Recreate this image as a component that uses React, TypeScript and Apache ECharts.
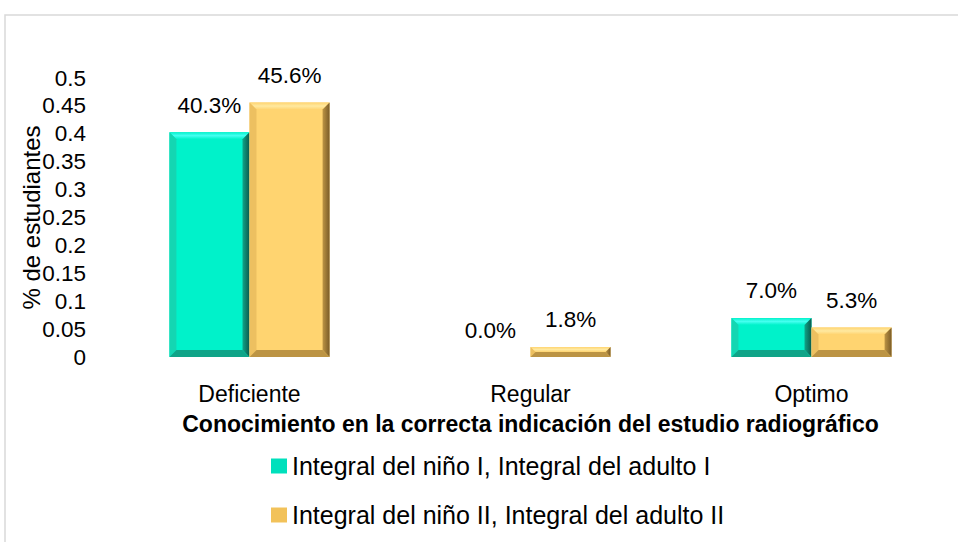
import React, { useEffect, useRef } from "react";
import * as echarts from "echarts";

const categories = ["Deficiente", "Regular", "Optimo"];
const seriesNames = [
  "Integral del niño I, Integral del adulto I",
  "Integral del niño II, Integral del adulto II",
];
const valuesGroup1 = [0.403, 0.0, 0.07];
const valuesGroup2 = [0.456, 0.018, 0.053];
const yTicks = { min: 0, max: 0.5, interval: 0.05 };
const xTitle = "Conocimiento en la correcta indicación del estudio radiográfico";
const yTitle = "% de estudiantes";

const FONT = "'Liberation Sans', Arial, sans-serif";

const palettes = [
  { face: "#00F2CA", top: "#45FFF0", left: "#14D6B2", right: "#0A5A4C", bottom: "#10A488", legend: "#00E0BC" },
  { face: "#FFD470", top: "#FFE9A0", left: "#EDC060", right: "#7A5C28", bottom: "#BC9444", legend: "#F2C25A" },
];

function makeRender(si: number) {
  return (params: any, api: any) => {
    const ci = api.value(0);
    const v = api.value(1);
    const base = api.coord([ci, 0]);
    const top = api.coord([ci, v]);
    const catW = api.size([1, 0])[0];
    const w = catW * 0.285;
    const x = si === 0 ? base[0] - w : base[0];
    const y = top[1];
    const h = base[1] - top[1];
    const p = palettes[si];
    const b = Math.min(7, h / 2, w / 2);
    const children: any[] = [];
    if (h > 0.5) {
      children.push({ type: "rect", shape: { x, y, width: w, height: h }, style: { fill: p.face } });
      children.push({
        type: "polygon",
        shape: { points: [[x, y], [x + w, y], [x + w - b, y + b], [x + b, y + b]] },
        style: {
          fill: new echarts.graphic.LinearGradient(0, 0, 0, 1, [
            { offset: 0, color: p.face },
            { offset: 0.5, color: p.top },
            { offset: 1, color: p.face },
          ]),
        },
      });
      children.push({
        type: "polygon",
        shape: { points: [[x, y], [x + b, y + b], [x + b, y + h - b], [x, y + h]] },
        style: { fill: p.left },
      });
      children.push({
        type: "polygon",
        shape: { points: [[x + w, y], [x + w, y + h], [x + w - b, y + h - b], [x + w - b, y + b]] },
        style: {
          fill: new echarts.graphic.LinearGradient(0, 0, 1, 0, [
            { offset: 0, color: p.bottom },
            { offset: 1, color: p.right },
          ]),
        },
      });
      children.push({
        type: "polygon",
        shape: { points: [[x, y + h], [x + b, y + h - b], [x + w - b, y + h - b], [x + w, y + h]] },
        style: { fill: p.bottom },
      });
    }
    children.push({
      type: "text",
      style: {
        text: (v * 100).toFixed(1) + "%",
        x: x + w / 2,
        y: y - 27,
        align: "center",
        verticalAlign: "middle",
        fill: "#000000",
        font: `22.5px ${FONT}`,
      },
    });
    return { type: "group", children };
  };
}

export default function App() {
  const ref = useRef<HTMLDivElement>(null);
  useEffect(() => {
    if (!ref.current) return;
    const chart = echarts.init(ref.current, null, { renderer: "svg" });
    const groups = [valuesGroup1, valuesGroup2];
    chart.setOption({
      animation: false,
      backgroundColor: "#ffffff",
      textStyle: { fontFamily: FONT },
      graphic: [
        {
          type: "rect",
          shape: { x: 5, y: 15, width: 1000, height: 600 },
          style: { fill: "none", stroke: "#D9D9D9", lineWidth: 1.5 },
          silent: true,
        },
      ],
      grid: { left: 109, right: 6, top: 78, bottom: 185 },
      legend: {
        orient: "vertical",
        left: 271,
        top: 452,
        padding: 0,
        itemWidth: 16,
        itemHeight: 15,
        itemGap: 21,
        icon: "rect",
        data: seriesNames,
        textStyle: { fontSize: 25, fontFamily: FONT, color: "#000000", lineHeight: 28 },
      },
      xAxis: {
        type: "category",
        data: categories,
        axisLine: { show: false },
        axisTick: { show: false },
        axisLabel: { fontSize: 23, color: "#000000", margin: 25, fontFamily: FONT },
        name: xTitle,
        nameLocation: "middle",
        nameGap: 55,
        nameMoveOverlap: false,
        nameTextStyle: { fontSize: 23, fontWeight: "bold", color: "#000000", fontFamily: FONT },
      },
      yAxis: {
        type: "value",
        min: yTicks.min,
        max: yTicks.max,
        interval: yTicks.interval,
        splitLine: { show: false },
        axisLine: { show: false },
        axisTick: { show: false },
        axisLabel: {
          fontSize: 22.5,
          color: "#000000",
          margin: 23,
          fontFamily: FONT,
          formatter: (v: number) => String(Math.round(v * 100) / 100),
        },
        name: yTitle,
        nameLocation: "middle",
        nameRotate: 90,
        nameGap: 66,
        nameMoveOverlap: false,
        nameTextStyle: { fontSize: 24, color: "#000000", fontFamily: FONT },
      },
      series: groups.map((vals, si) => ({
        type: "custom",
        name: seriesNames[si],
        itemStyle: { color: palettes[si].legend },
        encode: { x: 0, y: 1 },
        renderItem: makeRender(si),
        data: vals.map((v, i) => [i, v]),
      })),
    });
    return () => chart.dispose();
  }, []);
  return <div ref={ref} style={{ position: "fixed", left: 0, top: 0, width: 958, height: 542 }} />;
}
